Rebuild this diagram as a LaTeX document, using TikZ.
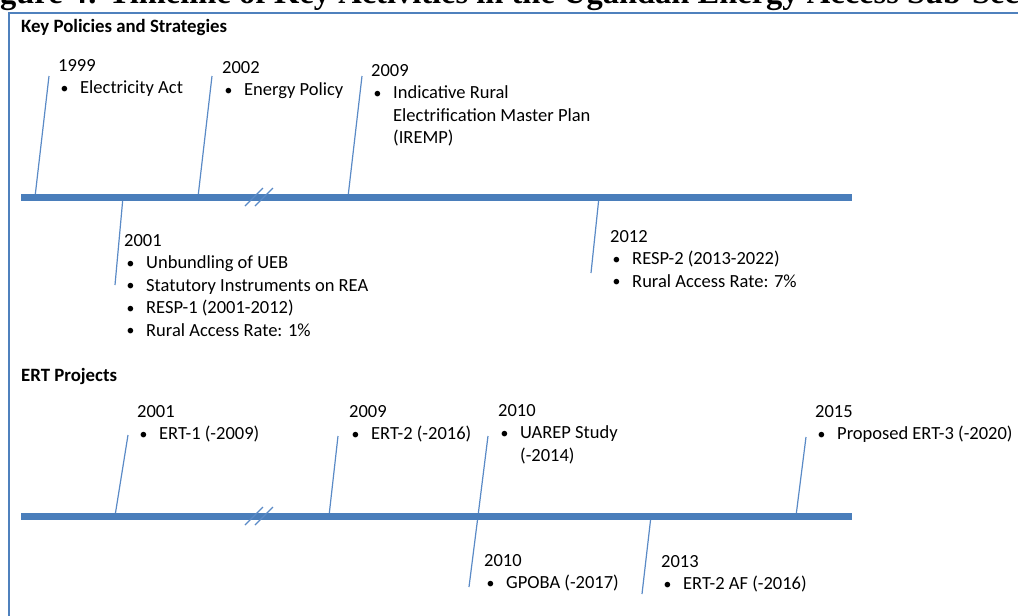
\documentclass[tikz,border=0pt]{standalone}
\usepackage{fontspec}
\setmainfont{Carlito}
\newfontfamily\titlefont{Liberation Serif}
\definecolor{frameblue}{HTML}{4F81BD}
\definecolor{barblue}{HTML}{4A7EBB}
\definecolor{linkblue}{HTML}{5A8AC6}
\newcommand\bul{\makebox[22pt][l]{\hspace{2.5pt}\raisebox{0.5pt}{\scalebox{0.85}{\textbullet}}}}
\newcommand\ind{\hspace*{22pt}}
\tikzset{
  evt/.style={anchor=base west, inner sep=0pt, font=\fontsize{18.5}{22.5}\selectfont},
  head/.style={anchor=base west, inner sep=0pt, font=\bfseries\fontsize{18.8}{22}\selectfont},
  frameline/.style={draw=frameblue, line width=2pt},
  bar/.style={draw=barblue, line width=6.5pt},
  link/.style={draw=linkblue, line width=1.2pt},
  brk/.style={draw=linkblue, line width=1.3pt},
}
\begin{document}
\begin{tikzpicture}[x=1pt,y=-1pt]
\useasboundingbox (0,0) rectangle (1018,616);
% title (cut off at top)
\node[anchor=base west, inner sep=0pt, font=\titlefont\bfseries\fontsize{32.5}{36}\selectfont] (title) at (-29,3.5) {Figure 4: Timeline of Key Activities in the Ugandan Energy Access Sub-Sector};
% frame
\draw[frameline] (1030,12.5) -- (8.5,12.5) -- (8.5,630);
% headings
\node[head] (h1) at (21,32) {Key Policies and Strategies};
\node[head] (h2) at (21,381) {ERT Projects};
% coordinates on bars and free ends
\coordinate (bA) at (21,197.5);  \coordinate (bB) at (852,197.5);
\coordinate (cA) at (21,516.3);  \coordinate (cB) at (852,516.3);
% top connectors
\coordinate (p1999) at (35,197);  \coordinate (q1999) at (49,76);
\coordinate (p2002) at (198,197); \coordinate (q2002) at (212,76);
\coordinate (p2009) at (348,197); \coordinate (q2009) at (362,76);
\coordinate (p2001) at (123,197); \coordinate (q2001) at (115,285);
\coordinate (p2012) at (599,197); \coordinate (q2012) at (591,273);
% bottom connectors
\coordinate (rE1) at (115,516); \coordinate (sE1) at (128,435);
\coordinate (rE2) at (329,516); \coordinate (sE2) at (338,436);
\coordinate (rU) at (478,516);  \coordinate (sU) at (488,436);
\coordinate (rE3) at (796,516); \coordinate (sE3) at (806,437);
\coordinate (rG) at (478,516);  \coordinate (sG) at (469,587);
\coordinate (rAF) at (651,516); \coordinate (sAF) at (642,594);
\foreach \a/\b in {p1999/q1999,p2002/q2002,p2009/q2009,p2001/q2001,p2012/q2012,
                   rE1/sE1,rE2/sE2,rU/sU,rE3/sE3,rG/sG,rAF/sAF}
  \draw[link] (\a) -- (\b);
% bars
\draw[bar] (bA) -- (bB);
\draw[bar] (cA) -- (cB);
% break marks
\coordinate (k1a) at (245,206); \coordinate (k1b) at (263,188);
\coordinate (k2a) at (255,206); \coordinate (k2b) at (273,188);
\coordinate (k3a) at (245,525); \coordinate (k3b) at (263,507);
\coordinate (k4a) at (255,525); \coordinate (k4b) at (273,507);
\draw[brk] (k1a) -- (k1b); \draw[brk] (k2a) -- (k2b);
\draw[brk] (k3a) -- (k3b); \draw[brk] (k4a) -- (k4b);
% events, policies
\node[evt] (e1999) at (58,71) {\begin{tabular}[t]{@{}l@{}}1999\\ \bul Electricity Act\end{tabular}};
\node[evt] (e2002) at (222,73) {\begin{tabular}[t]{@{}l@{}}2002\\ \bul Energy Policy\end{tabular}};
\node[evt] (e2009) at (371,76) {\begin{tabular}[t]{@{}l@{}}2009\\ \bul Indicative Rural\\ \ind Electrification Master Plan\\ \ind (IREMP)\end{tabular}};
\node[evt] (e2001) at (124,246) {\begin{tabular}[t]{@{}l@{}}2001\\ \bul Unbundling of UEB\\ \bul Statutory Instruments on REA\\ \bul RESP-1 (2001-2012)\\ \bul Rural Access Rate: 1\%\end{tabular}};
\node[evt] (e2012) at (610,242) {\begin{tabular}[t]{@{}l@{}}2012\\ \bul RESP-2 (2013-2022)\\ \bul Rural Access Rate: 7\%\end{tabular}};
% events, ERT
\node[evt] (ert1) at (137,417) {\begin{tabular}[t]{@{}l@{}}2001\\ \bul ERT-1 (-2009)\end{tabular}};
\node[evt] (ert2) at (349,417) {\begin{tabular}[t]{@{}l@{}}2009\\ \bul ERT-2 (-2016)\end{tabular}};
\node[evt] (uarep) at (498,416) {\begin{tabular}[t]{@{}l@{}}2010\\ \bul UAREP Study\\ \ind (-2014)\end{tabular}};
\node[evt] (ert3) at (815,417) {\begin{tabular}[t]{@{}l@{}}2015\\ \bul Proposed ERT-3 (-2020)\end{tabular}};
\node[evt] (gpoba) at (484,566) {\begin{tabular}[t]{@{}l@{}}2010\\ \bul GPOBA (-2017)\end{tabular}};
\node[evt] (ertaf) at (661,567) {\begin{tabular}[t]{@{}l@{}}2013\\ \bul ERT-2 AF (-2016)\end{tabular}};
\end{tikzpicture}
\end{document}
